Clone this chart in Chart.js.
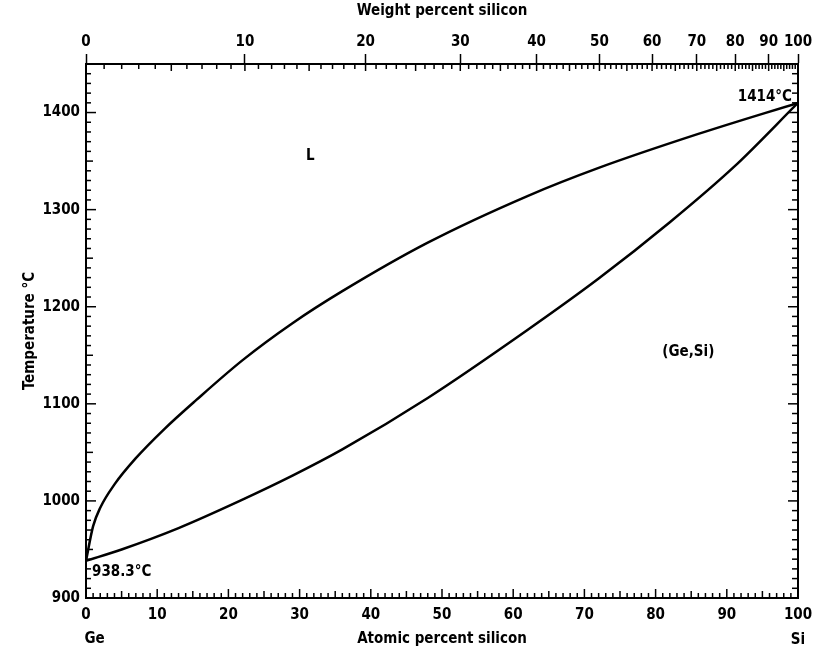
<!DOCTYPE html>
<html>
<head>
<meta charset="utf-8">
<script src="https://cdn.jsdelivr.net/npm/chart.js@4.4.0/dist/chart.umd.min.js"></script>
<style>
  body { margin: 0; background: #fff; }
  #wrap { width: 823px; height: 650px; }
</style>
</head>
<body>
<div id="wrap"><canvas id="chart" width="823" height="650"></canvas></div>
<script>
// liquidus (atomic % Si, deg C)
const LIQ_AT = [0, 1, 2, 4, 7, 11, 15.5, 22, 29, 36, 48, 62, 72, 86, 100]
const LIQ_T = [938.3, 974, 993, 1017, 1044, 1074, 1104, 1145, 1183, 1216, 1266, 1314, 1343, 1378, 1410]

// solidus
const SOL_AT = [0, 5, 13, 21.6, 29, 36, 48, 62, 72, 82, 91, 100]
const SOL_T = [938.3, 950, 972, 1000, 1026, 1053, 1106, 1176, 1229, 1287, 1344, 1410]

// top axis labels (weight % Si)
const WT_TICKS = [0, 10, 20, 30, 40, 50, 60, 70, 80, 90, 100]

const FONT = '"Liberation Sans Narrow", "DejaVu Sans Condensed", "Arial Narrow", sans-serif'
const M_SI = 28.0855
const M_GE = 72.63

// weight % Si -> atomic % Si
const wtToAt = (w) => {
  const si = w / M_SI
  const ge = (100 - w) / M_GE
  return 100 * si / (si + ge)
}

const toPoints = (xs, ys) => xs.map((x, i) => ({ x, y: ys[i] }))

const tickFont = { family: FONT, size: 15, weight: 'bold' }

// inward minor ticks + text labels
const decor = {
  id: 'decor',
  afterDraw(chart) {
    const { ctx, chartArea: a, scales } = chart
    const xs = scales.x, ys = scales.y
    ctx.save()
    ctx.strokeStyle = '#000'
    ctx.lineWidth = 1.5

    // bottom: every 1 at%
    for (let v = 1; v < 100; v++) {
      const px = xs.getPixelForValue(v)
      const len = v % 10 === 0 ? 9 : (v % 5 === 0 ? 7 : 5)
      ctx.beginPath(); ctx.moveTo(px, a.bottom); ctx.lineTo(px, a.bottom - len); ctx.stroke()
    }
    // top: every 1 wt%
    for (let w = 1; w < 100; w++) {
      const px = xs.getPixelForValue(wtToAt(w))
      const len = w % 5 === 0 ? 7 : 5
      ctx.beginPath(); ctx.moveTo(px, a.top); ctx.lineTo(px, a.top + len); ctx.stroke()
    }
    // left and right: every 10 C
    for (let t = 910; t < 1450; t += 10) {
      const py = ys.getPixelForValue(t)
      const len = t % 100 === 0 ? 10 : (t % 50 === 0 ? 7 : 5)
      ctx.beginPath(); ctx.moveTo(a.left, py); ctx.lineTo(a.left + len, py); ctx.stroke()
      ctx.beginPath(); ctx.moveTo(a.right, py); ctx.lineTo(a.right - (t % 100 === 0 ? 10 : 6), py); ctx.stroke()
    }

    ctx.fillStyle = '#000'
    ctx.font = `bold 15px ${FONT}`
    ctx.textBaseline = 'middle'
    ctx.textAlign = 'center'
    ctx.fillText('L', xs.getPixelForValue(31.5), ys.getPixelForValue(1355))
    ctx.fillText('(Ge,Si)', xs.getPixelForValue(84.6), ys.getPixelForValue(1153))
    ctx.fillText('Ge', xs.getPixelForValue(1.2), 639)
    ctx.fillText('Si', xs.getPixelForValue(100), 640)
    ctx.textAlign = 'right'
    ctx.fillText('1414°C', xs.getPixelForValue(100) - 6, ys.getPixelForValue(1416))
    ctx.textAlign = 'left'
    ctx.fillText('938.3°C', xs.getPixelForValue(0) + 6, ys.getPixelForValue(927))
    ctx.restore()
  }
}

new Chart(document.getElementById('chart'), {
  type: 'scatter',
  data: {
    datasets: [
      { label: 'liquidus', data: toPoints(LIQ_AT, LIQ_T) },
      { label: 'solidus', data: toPoints(SOL_AT, SOL_T) }
    ]
  },
  options: {
    responsive: false,
    animation: false,
    showLine: true,
    layout: { padding: { left: 0, right: 25, top: 0, bottom: 0 } },
    elements: {
      point: { radius: 0 },
      line: { borderColor: '#000', borderWidth: 2.5, cubicInterpolationMode: 'monotone' }
    },
    plugins: { legend: { display: false }, tooltip: { enabled: false } },
    scales: {
      x: {
        type: 'linear', position: 'bottom', min: 0, max: 100,
        ticks: { stepSize: 10, color: '#000', font: tickFont, padding: 8, maxRotation: 0,
          callback: (v) => String(v) },
        grid: { drawOnChartArea: false, drawTicks: false },
        border: { display: true, color: '#000', width: 2 },
        title: { display: true, text: 'Atomic percent silicon', color: '#000', font: tickFont, padding: { top: 0, bottom: 2 } },
        afterFit: (s) => { s.height = 52 }
      },
      x2: {
        type: 'linear', position: 'top', min: 0, max: 100,
        afterBuildTicks: (axis) => { axis.ticks = WT_TICKS.map((w) => ({ value: wtToAt(w) })) },
        ticks: { autoSkip: false, maxRotation: 0, color: '#000', font: tickFont, padding: 3,
          callback: (v, i) => String(WT_TICKS[i]) },
        grid: { drawOnChartArea: false, drawTicks: true, tickLength: 10, color: '#000', tickWidth: 1.5 },
        border: { display: true, color: '#000', width: 2 },
        title: { display: true, text: 'Weight percent silicon', color: '#000', font: tickFont, padding: { top: 2, bottom: 0 } },
        afterFit: (s) => { s.height = 64 }
      },
      y: {
        type: 'linear', position: 'left', min: 900, max: 1450,
        ticks: { stepSize: 100, includeBounds: false, color: '#000', font: tickFont, padding: 6,
          callback: (v) => String(v) },
        grid: { drawOnChartArea: false, drawTicks: false },
        border: { display: true, color: '#000', width: 2 },
        title: { display: true, text: 'Temperature °C', color: '#000', font: { family: FONT, size: 15, weight: 'bold' }, padding: { top: 21, bottom: 0 } },
        afterFit: (s) => { s.width = 86 }
      },
      y2: {
        type: 'linear', position: 'right', min: 900, max: 1450,
        ticks: { display: false },
        grid: { drawOnChartArea: false, drawTicks: false },
        border: { display: true, color: '#000', width: 2 },
        afterFit: (s) => { s.width = 0 }
      }
    }
  },
  plugins: [decor]
})
</script>
</body>
</html>
